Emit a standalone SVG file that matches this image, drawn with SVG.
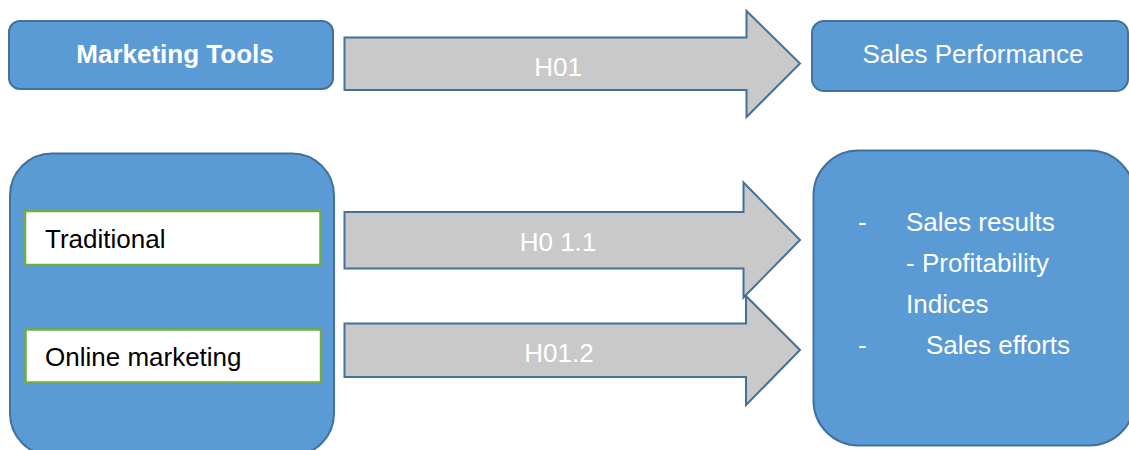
<svg xmlns="http://www.w3.org/2000/svg" width="1129" height="450" viewBox="0 0 1129 450">
<style>
.box{fill:#5B9BD5;stroke:#41719C;stroke-width:2}
.inner{fill:#FFFFFF;stroke:#70AD47;stroke-width:2.5}
.arrow{fill:#C9C9C9;stroke:#41719C;stroke-width:2}
text{font-family:"Liberation Sans",Arial,sans-serif;font-size:26px}
.w{fill:#FFFFFF}
.k{fill:#000000}
.c{text-anchor:middle}
</style>
<rect width="1129" height="450" fill="#FFFFFF"/>
<g id="connectors">
<g id="h01">
<path class="arrow" d="M344.5,37.5 H746.5 V11 L800,63.5 L746.5,117 V90 H344.5 Z"/>
<text class="w c" x="558" y="76">H01</text>
</g>
<g id="h011">
<path class="arrow" d="M344.5,212 H743.5 V182.5 L800,240 L743.5,297.5 V268.5 H344.5 Z"/>
<text class="w c" x="558" y="251">H0 1.1</text>
</g>
<g id="h012">
<path class="arrow" d="M344.5,323.5 H746 V296 L800,350 L746,405 V377 H344.5 Z"/>
<text class="w c" x="559" y="362">H01.2</text>
</g>
</g>
<g id="marketing-tools">
<rect class="box" x="9" y="21" width="324" height="68" rx="11"/>
<text class="w c" x="175" y="63" font-weight="bold">Marketing Tools</text>
</g>
<g id="sales-performance">
<rect class="box" x="812" y="21" width="316" height="70" rx="12"/>
<text class="w c" x="973" y="63">Sales Performance</text>
</g>
<g id="tools-group">
<rect class="box" x="10" y="153.5" width="324" height="302" rx="42"/>
</g>
<g id="traditional">
<rect class="inner" x="25" y="211" width="295.5" height="54"/>
<text class="k" x="45" y="248">Traditional</text>
</g>
<g id="online-marketing">
<rect class="inner" x="25.5" y="329.5" width="295.5" height="53"/>
<text class="k" x="45" y="366">Online marketing</text>
</g>
<g id="performance-details">
<rect class="box" x="813.5" y="150.5" width="321" height="295" rx="45"/>
<text class="w" x="858" y="231">-</text>
<text class="w" x="906" y="231">Sales results</text>
<text class="w" x="906" y="272">- Profitability</text>
<text class="w" x="906" y="313">Indices</text>
<text class="w" x="858" y="354">-</text>
<text class="w" x="926" y="354">Sales efforts</text>
</g>
</svg>
